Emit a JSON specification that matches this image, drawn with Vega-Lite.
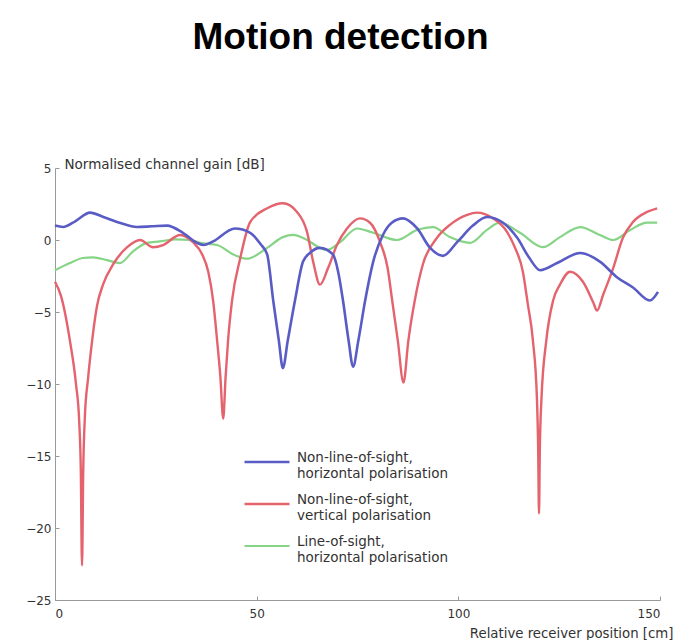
{
  "$schema": "https://vega.github.io/schema/vega-lite/v6.json",
  "width": 605,
  "height": 432,
  "autosize": {"type": "none"},
  "padding": {"left": 55, "top": 168, "right": 38, "bottom": 40},
  "background": "white",
  "title": {"text": "Motion detection", "fontSize": 37, "font": "Liberation Sans", "fontWeight": "bold", "color": "black", "anchor": "middle", "frame": "group", "offset": 71, "baseline": "alphabetic", "dx": -17},
  "data": {"values": [
    {"series":"c","position":0,"gain":-2.1},{"series":"c","position":3.7,"gain":-1.6},{"series":"c","position":6.9,"gain":-1.25},{"series":"c","position":9.4,"gain":-1.2},{"series":"c","position":12.9,"gain":-1.4},{"series":"c","position":16.1,"gain":-1.6},{"series":"c","position":19.3,"gain":-0.8},{"series":"c","position":22.8,"gain":-0.2},{"series":"c","position":26,"gain":-0.1},{"series":"c","position":29.8,"gain":0.05},{"series":"c","position":33.5,"gain":0},{"series":"c","position":36,"gain":-0.2},{"series":"c","position":40.2,"gain":-0.35},{"series":"c","position":44.2,"gain":-1.0},{"series":"c","position":47.6,"gain":-1.3},{"series":"c","position":52.6,"gain":-0.55},{"series":"c","position":56.5,"gain":0.2},{"series":"c","position":59,"gain":0.35},{"series":"c","position":62.5,"gain":0},{"series":"c","position":65.7,"gain":-0.55},{"series":"c","position":67.4,"gain":-0.7},{"series":"c","position":70.7,"gain":-0.15},{"series":"c","position":74.9,"gain":0.8},{"series":"c","position":78.9,"gain":0.5},{"series":"c","position":84.8,"gain":0},{"series":"c","position":89.8,"gain":0.7},{"series":"c","position":93.7,"gain":0.9},{"series":"c","position":97.9,"gain":0.2},{"series":"c","position":102.9,"gain":-0.2},{"series":"c","position":107.1,"gain":0.7},{"series":"c","position":110.3,"gain":1.2},{"series":"c","position":115.3,"gain":0.5},{"series":"c","position":121,"gain":-0.5},{"series":"c","position":125.2,"gain":0.2},{"series":"c","position":130.2,"gain":0.9},{"series":"c","position":135.1,"gain":0.35},{"series":"c","position":138.4,"gain":0},{"series":"c","position":142.6,"gain":0.7},{"series":"c","position":146.8,"gain":1.2},{"series":"c","position":149.3,"gain":1.2},
    {"series":"b","position":0,"gain":-2.9},{"series":"b","position":1.5,"gain":-3.9},{"series":"b","position":3.7,"gain":-7},{"series":"b","position":5.2,"gain":-10},{"series":"b","position":6.0,"gain":-12.6},{"series":"b","position":6.4,"gain":-16},{"series":"b","position":6.7,"gain":-22.6},{"series":"b","position":7.0,"gain":-16},{"series":"b","position":7.4,"gain":-12.3},{"series":"b","position":8.2,"gain":-9.6},{"series":"b","position":9.2,"gain":-7},{"series":"b","position":10.4,"gain":-4.6},{"series":"b","position":11.9,"gain":-3.1},{"series":"b","position":14.4,"gain":-1.7},{"series":"b","position":17.9,"gain":-0.5},{"series":"b","position":21.1,"gain":0},{"series":"b","position":24.3,"gain":-0.5},{"series":"b","position":26.8,"gain":-0.35},{"series":"b","position":31,"gain":0.35},{"series":"b","position":34.2,"gain":-0.15},{"series":"b","position":36.5,"gain":-1.0},{"series":"b","position":38,"gain":-2.2},{"series":"b","position":39.2,"gain":-4.2},{"series":"b","position":40.2,"gain":-7},{"series":"b","position":41,"gain":-9.5},{"series":"b","position":41.7,"gain":-12.4},{"series":"b","position":42.3,"gain":-9.5},{"series":"b","position":42.9,"gain":-7},{"series":"b","position":43.9,"gain":-4.2},{"series":"b","position":45.9,"gain":-1.3},{"series":"b","position":48.4,"gain":1.25},{"series":"b","position":52.6,"gain":2.2},{"series":"b","position":56.5,"gain":2.55},{"series":"b","position":60,"gain":1.95},{"series":"b","position":62.5,"gain":0.55},{"series":"b","position":64,"gain":-1.5},{"series":"b","position":65.7,"gain":-3.1},{"series":"b","position":67.7,"gain":-1.95},{"series":"b","position":69.9,"gain":-0.35},{"series":"b","position":72.4,"gain":0.8},{"series":"b","position":75.6,"gain":1.5},{"series":"b","position":78.1,"gain":1.2},{"series":"b","position":80.6,"gain":-0.15},{"series":"b","position":82.5,"gain":-2.0},{"series":"b","position":83.6,"gain":-4.2},{"series":"b","position":85,"gain":-7},{"series":"b","position":86.4,"gain":-9.9},{"series":"b","position":87.6,"gain":-7},{"series":"b","position":89.2,"gain":-4.2},{"series":"b","position":91.2,"gain":-1.7},{"series":"b","position":94.7,"gain":0.15},{"series":"b","position":97.9,"gain":1.05},{"series":"b","position":102.2,"gain":1.75},{"series":"b","position":104.6,"gain":1.9},{"series":"b","position":108.6,"gain":1.5},{"series":"b","position":112.1,"gain":0.55},{"series":"b","position":114,"gain":-0.5},{"series":"b","position":116,"gain":-2.2},{"series":"b","position":117.2,"gain":-4.4},{"series":"b","position":118.5,"gain":-7},{"series":"b","position":119.5,"gain":-11.1},{"series":"b","position":119.8,"gain":-14.6},{"series":"b","position":120,"gain":-19},{"series":"b","position":120.2,"gain":-14.6},{"series":"b","position":120.6,"gain":-11.1},{"series":"b","position":121.8,"gain":-7},{"series":"b","position":123.5,"gain":-4.2},{"series":"b","position":125.2,"gain":-3.1},{"series":"b","position":127.7,"gain":-2.2},{"series":"b","position":130.9,"gain":-2.9},{"series":"b","position":133.4,"gain":-4.3},{"series":"b","position":134.4,"gain":-4.9},{"series":"b","position":135.9,"gain":-3.8},{"series":"b","position":138.4,"gain":-1.95},{"series":"b","position":140.8,"gain":0.15},{"series":"b","position":143.3,"gain":1.25},{"series":"b","position":146.8,"gain":1.95},{"series":"b","position":149.3,"gain":2.2},
    {"series":"a","position":0,"gain":1.0},{"series":"a","position":2,"gain":0.9},{"series":"a","position":5,"gain":1.3},{"series":"a","position":8.7,"gain":1.9},{"series":"a","position":12,"gain":1.6},{"series":"a","position":16,"gain":1.2},{"series":"a","position":20.3,"gain":0.9},{"series":"a","position":24,"gain":0.95},{"series":"a","position":27.8,"gain":1.0},{"series":"a","position":31.7,"gain":0.5},{"series":"a","position":35.2,"gain":-0.2},{"series":"a","position":37,"gain":-0.35},{"series":"a","position":39.2,"gain":-0.1},{"series":"a","position":44.6,"gain":0.8},{"series":"a","position":48.4,"gain":0.5},{"series":"a","position":51,"gain":-0.3},{"series":"a","position":52.6,"gain":-1.0},{"series":"a","position":54.1,"gain":-4.2},{"series":"a","position":55.5,"gain":-7},{"series":"a","position":56.5,"gain":-8.9},{"series":"a","position":57.7,"gain":-7},{"series":"a","position":59.5,"gain":-4.2},{"series":"a","position":61.5,"gain":-1.5},{"series":"a","position":63.2,"gain":-0.9},{"series":"a","position":65.7,"gain":-0.55},{"series":"a","position":68.9,"gain":-1.0},{"series":"a","position":70.2,"gain":-2.2},{"series":"a","position":71.4,"gain":-4.2},{"series":"a","position":72.8,"gain":-7},{"series":"a","position":73.9,"gain":-8.8},{"series":"a","position":75.2,"gain":-7},{"series":"a","position":76.9,"gain":-4.2},{"series":"a","position":78.9,"gain":-1.5},{"series":"a","position":81.3,"gain":0.35},{"series":"a","position":83.5,"gain":1.2},{"series":"a","position":86.3,"gain":1.5},{"series":"a","position":89.8,"gain":0.8},{"series":"a","position":93,"gain":-0.55},{"series":"a","position":96.2,"gain":-1.1},{"series":"a","position":99.7,"gain":-0.15},{"series":"a","position":103.6,"gain":1.0},{"series":"a","position":107.1,"gain":1.6},{"series":"a","position":111.1,"gain":1.2},{"series":"a","position":114.6,"gain":0.15},{"series":"a","position":117.5,"gain":-1.2},{"series":"a","position":120.3,"gain":-2.1},{"series":"a","position":124.5,"gain":-1.6},{"series":"a","position":130.2,"gain":-0.9},{"series":"a","position":135.1,"gain":-1.5},{"series":"a","position":139.4,"gain":-2.6},{"series":"a","position":143.3,"gain":-3.3},{"series":"a","position":147.5,"gain":-4.2},{"series":"a","position":149.5,"gain":-3.6}
  ]},
  "mark": {"type": "line", "interpolate": "monotone"},
  "encoding": {
    "x": {
      "field": "position", "type": "quantitative",
      "scale": {"domain": [0, 150], "nice": false, "zero": false},
      "axis": {"values": [0, 50, 100, 150], "title": "Relative receiver position [cm]", "titleX": 618, "titleY": 37, "titleAlign": "right", "titleBaseline": "alphabetic", "titleFontWeight": "normal", "titleFontSize": 13.3, "titleFont": "DejaVu Sans", "titleColor": "#333", "labelFont": "DejaVu Sans", "labelFontSize": 12, "labelColor": "#333", "domainColor": "#999", "tickColor": "#999", "tickSize": -4, "labelPadding": 12, "grid": false}
    },
    "y": {
      "field": "gain", "type": "quantitative",
      "scale": {"domain": [-25, 5], "nice": false, "zero": false},
      "axis": {"values": [-25, -20, -15, -10, -5, 0, 5], "title": "Normalised channel gain [dB]", "titleAngle": 0, "titleX": 9, "titleY": 0, "titleAlign": "left", "titleBaseline": "alphabetic", "titleFontWeight": "normal", "titleFontSize": 13.5, "titleFont": "DejaVu Sans", "titleColor": "#333", "labelFont": "DejaVu Sans", "labelFontSize": 12, "labelColor": "#333", "domainColor": "#999", "tickColor": "#999", "tickSize": -4, "labelPadding": 8, "grid": false}
    },
    "color": {
      "field": "series", "type": "nominal",
      "scale": {"domain": ["a", "b", "c"], "range": ["#5a5cc6", "#e4636d", "#86d486"]},
      "legend": {"orient": "none", "legendX": 188, "legendY": 270, "title": null, "symbolType": "stroke", "symbolSize": 2025, "symbolStrokeWidth": 3, "labelExpr": "datum.label == 'a' ? ['Non-line-of-sight,', 'horizontal polarisation'] : datum.label == 'b' ? ['Non-line-of-sight,', 'vertical polarisation'] : ['Line-of-sight,', 'horizontal polarisation']", "labelFont": "DejaVu Sans", "labelFontSize": 13.5, "labelColor": "#333", "labelLimit": 0, "labelBaseline": "alphabetic", "labelOffset": 6, "rowPadding": 0}
    },
    "strokeWidth": {
      "field": "series", "type": "nominal",
      "scale": {"domain": ["a", "b", "c"], "range": [2.6, 2.2, 3.6]},
      "legend": null
    }
  },
  "config": {"view": {"stroke": null}}
}
